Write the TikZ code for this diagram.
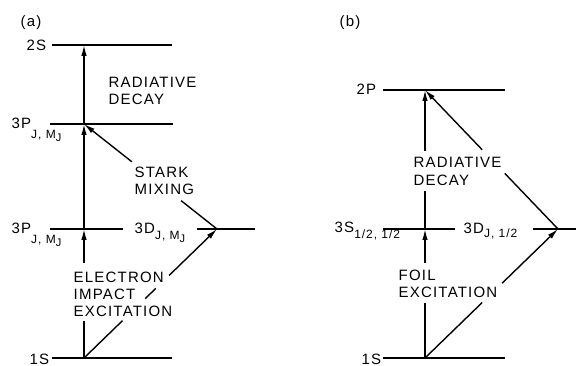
\documentclass[tikz,border=0pt]{standalone}
\usepackage{fontspec}
\setmainfont{Liberation Sans}[LetterSpace=8]
\usepackage{tikz}
\usetikzlibrary{arrows.meta,calc}
\newcommand{\lsub}[2][-6pt]{\raisebox{#1}{\fontsize{12}{12}\selectfont #2}}
\newcommand{\lsubsub}[1]{\raisebox{-3pt}{\fontsize{11}{11}\selectfont #1}}

\begin{document}
\begin{tikzpicture}[x=1pt,y=-1pt,
  level/.style={line width=1.1pt},
  trans/.style={line width=1.4pt},
  transto/.style={trans,-{Latex[length=11pt,width=5.5pt]}},
  txt/.style={anchor=base west,inner sep=1.5pt,font=\fontsize{15}{17}\selectfont}]
  \useasboundingbox (0,0) rectangle (576,366);
  % panel (a)
  \coordinate (a1S) at (84,358);
  \coordinate (a3Pl) at (84,229);
  \coordinate (a3Pu) at (84,124);
  \coordinate (a2S) at (84,45);
  \coordinate (a3D) at (217,229);
  \node[txt] (alab) at (19,27) {(a)};
  \node[txt] (a2Slab) at (25,50.5) {2S};
  \node[txt] (a3Pulab) at (10,128.5) {3P\lsub[-10pt]{J, M\lsubsub{J}}};
  \node[txt] (a3Pllab) at (10,234) {3P\lsub[-10pt]{J, M\lsubsub{J}}};
  \node[txt] (a3Dlab) at (133,234) {3D\lsub{J, M\lsubsub{J}}};
  \node[txt] (a1Slab) at (28,364) {1S};
  \node[txt] (radA1) at (107,87.5) {RADIATIVE};
  \node[txt] (radA2) at (107,105) {DECAY};
  \node[txt] (stark1) at (133,178) {STARK};
  \node[txt] (stark2) at (133,195) {MIXING};
  \node[txt] (elec1) at (72,282.5) {ELECTRON};
  \node[txt] (elec2) at (72,299) {IMPACT};
  \node[txt] (elec3) at (72,316.5) {EXCITATION};
  \draw[level] (52,45) -- (172,45);
  \draw[level] (50,124) -- (173,124);
  \draw[level] (50,229) -- (123,229);  \draw[level] (197,229) -- (255,229);
  \draw[level] (52,358) -- (172,358);
  % breaks where the words sit
  \coordinate (aV1) at (84,321);
  \coordinate (aV2) at (84,263);
  \coordinate (aD1) at ($(a1S)!0.29!(a3D)$);
  \coordinate (aD2) at ($(a1S)!0.46!(a3D)$);
  \coordinate (aD3) at ($(a1S)!0.54!(a3D)$);
  \coordinate (aD4) at ($(a1S)!0.64!(a3D)$);
  \coordinate (aM1) at ($(a3D)!0.27!(a3Pu)$);
  \coordinate (aM2) at ($(a3D)!0.64!(a3Pu)$);
  \draw[trans] (a1S) -- (aV1);  \draw[transto] (aV2) -- (a3Pl);
  \draw[transto] (a3Pl) -- (a3Pu);
  \draw[transto] (a3Pu) -- (a2S);
  \draw[trans] (a1S) -- (aD1);  \draw[trans] (aD2) -- (aD3);
  \draw[transto] (aD4) -- (a3D);
  \draw[trans] (a3D) -- (aM1);  \draw[transto] (aM2) -- (a3Pu);
  % panel (b)
  \coordinate (b1S) at (425,358);
  \coordinate (b3S) at (425,229);
  \coordinate (b2P) at (425,90);
  \coordinate (b3D) at (558,229);
  \node[txt] (blab) at (338,27) {(b)};
  \node[txt] (b2Plab) at (355,95) {2P};
  \node[txt] (b3Slab) at (333,233) {3S\lsub{1/2, 1/2}};
  \node[txt] (b3Dlab) at (462,234) {3D\lsub[-4pt]{J, 1/2}};
  \node[txt] (b1Slab) at (360,364) {1S};
  \node[txt] (radB1) at (412,168) {RADIATIVE};
  \node[txt] (radB2) at (412,186) {DECAY};
  \node[txt] (foil1) at (397,280.5) {FOIL};
  \node[txt] (foil2) at (397,298) {EXCITATION};
  \draw[level] (383,90) -- (505,90);
  \draw[level] (383,229) -- (455,229);  \draw[level] (533,229) -- (580,229);
  \draw[level] (383,358) -- (505,358);
  \coordinate (bV1) at (425,303);
  \coordinate (bV2) at (425,263);
  \coordinate (bV3) at (425,191);
  \coordinate (bV4) at (425,151);
  \coordinate (bD1) at ($(b1S)!0.43!(b3D)$);
  \coordinate (bD2) at ($(b1S)!0.58!(b3D)$);
  \coordinate (bR1) at ($(b3D)!0.40!(b2P)$);
  \coordinate (bR2) at ($(b3D)!0.57!(b2P)$);
  \draw[trans] (b1S) -- (bV1);  \draw[transto] (bV2) -- (b3S);
  \draw[trans] (b3S) -- (bV3);  \draw[transto] (bV4) -- (b2P);
  \draw[trans] (b1S) -- (bD1);  \draw[transto] (bD2) -- (b3D);
  \draw[trans] (b3D) -- (bR1);  \draw[transto] (bR2) -- (b2P);
\end{tikzpicture}
\end{document}
